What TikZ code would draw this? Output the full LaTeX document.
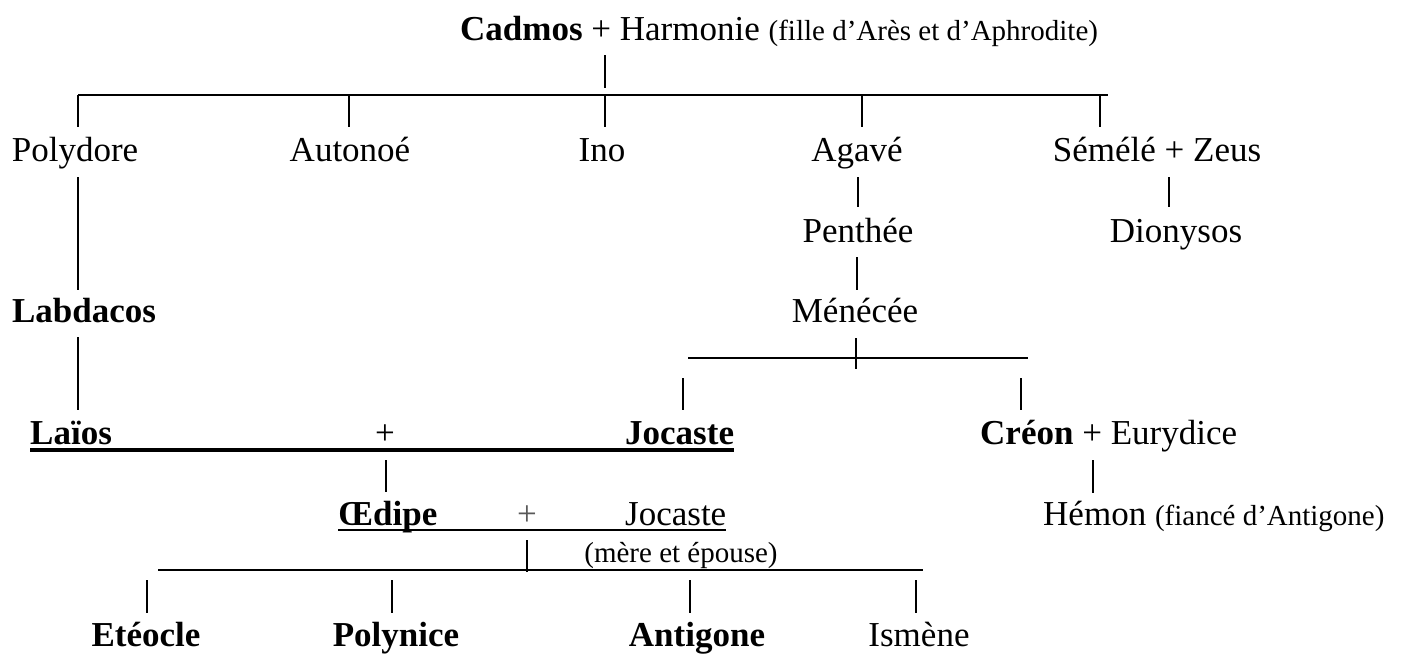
\documentclass[tikz,border=0pt]{standalone}
\usepackage{fontspec}
\setmainfont{Liberation Serif}
\newcommand\smalltag[1]{{\fontsize{29}{34}\selectfont #1}}
\begin{document}
\begin{tikzpicture}[x=1pt,y=-1pt,
  person/.style={inner sep=0pt, anchor=base, font=\fontsize{35}{40}\selectfont},
  aside/.style={inner sep=0pt, anchor=base, font=\fontsize{29}{34}\selectfont},
  link/.style={line width=1.3pt},
  bar/.style={line width=2.2pt},
  couple/.style={line width=3.5pt},
  couple2/.style={line width=2.4pt}]
\useasboundingbox (0,0) rectangle (1407,657);

% --- persons ---
\node[person, anchor=base west] (cadmos) at (460,40) {\textbf{Cadmos} + Harmonie \smalltag{(fille d’Arès et d’Aphrodite)}};
\node[person] (polydore) at (75,161) {Polydore};
\node[person] (autonoe) at (350,161) {Autonoé};
\node[person] (ino) at (602,161) {Ino};
\node[person] (agave) at (857,161) {Agavé};
\node[person] (semele) at (1157,161) {Sémélé + Zeus};
\node[person] (penthee) at (858,242) {Penthée};
\node[person] (dionysos) at (1176,242) {Dionysos};
\node[person] (labdacos) at (84,322) {\textbf{Labdacos}};
\node[person] (menecee) at (855,322) {Ménécée};
\node[person, anchor=base west] (laios) at (30,444) {\textbf{Laïos}};
\node[person] (plusA) at (385,444) {+};
\node[person, anchor=base west] (jocasteA) at (625,444) {\textbf{Jocaste}};
\node[person, anchor=base west] (creon) at (980,444) {\textbf{Créon} + Eurydice};
\node[person, anchor=base west] (oedipe) at (338,525) {\textbf{Œdipe}};
\node[person, text=black!65] (plusB) at (527,525) {+};
\node[person, anchor=base west] (jocasteB) at (625,525) {Jocaste};
\node[person, anchor=base west] (hemon) at (1043,525) {Hémon \smalltag{(fiancé d’Antigone)}};
\node[aside] (mere) at (681,562) {(mère et épouse)};
\node[person] (eteocle) at (146,646) {\textbf{Etéocle}};
\node[person] (polynice) at (396,646) {\textbf{Polynice}};
\node[person] (antigone) at (697,646) {\textbf{Antigone}};
\node[person] (ismene) at (919,646) {Ismène};

% --- marriage underlines ---
\draw[couple] ([yshift=-6pt]laios.base west) -- ([yshift=-6pt]jocasteA.base east);
\draw[couple2] ([yshift=-5pt]oedipe.base west) -- ([yshift=-5pt]jocasteB.base east);

% --- children of Cadmos ---
\coordinate (cadmosW) at (78,95);
\coordinate (cadmosE) at (1108,95);
\draw[bar] (cadmosW) -- (cadmosE);
\draw[link] (605,55) -- (605,88);
\foreach \x in {78,349,605,862,1100} \draw[link] (\x,95) -- (\x,127);

% --- descent lines ---
\draw[link] (858,177) -- (858,207);   % Agavé - Penthée
\draw[link] (857,257) -- (857,290);   % Penthée - Ménécée
\draw[link] (1169,177) -- (1169,207); % Sémélé - Dionysos
\draw[link] (78,177) -- (78,290);     % Polydore - Labdacos
\draw[link] (78,337) -- (78,410);     % Labdacos - Laïos

% --- children of Ménécée ---
\coordinate (menW) at (688,358);
\coordinate (menE) at (1028,358);
\draw[line width=1.8pt] (menW) -- (menE);
\draw[link] (856,338) -- (856,369);
\draw[link] (683,378) -- (683,410);
\draw[link] (1021,378) -- (1021,410);

% --- Laïos + Jocaste, Créon + Eurydice ---
\draw[link] (386,460) -- (386,492);
\draw[link] (1093,460) -- (1093,493);

% --- children of Œdipe + Jocaste ---
\coordinate (oedW) at (158,570);
\coordinate (oedE) at (923,570);
\draw[line width=1.8pt] (oedW) -- (oedE);
\draw[link] (527,540) -- (527,572);
\foreach \x in {147,392,690,916} \draw[link] (\x,580) -- (\x,613);
\end{tikzpicture}
\end{document}
